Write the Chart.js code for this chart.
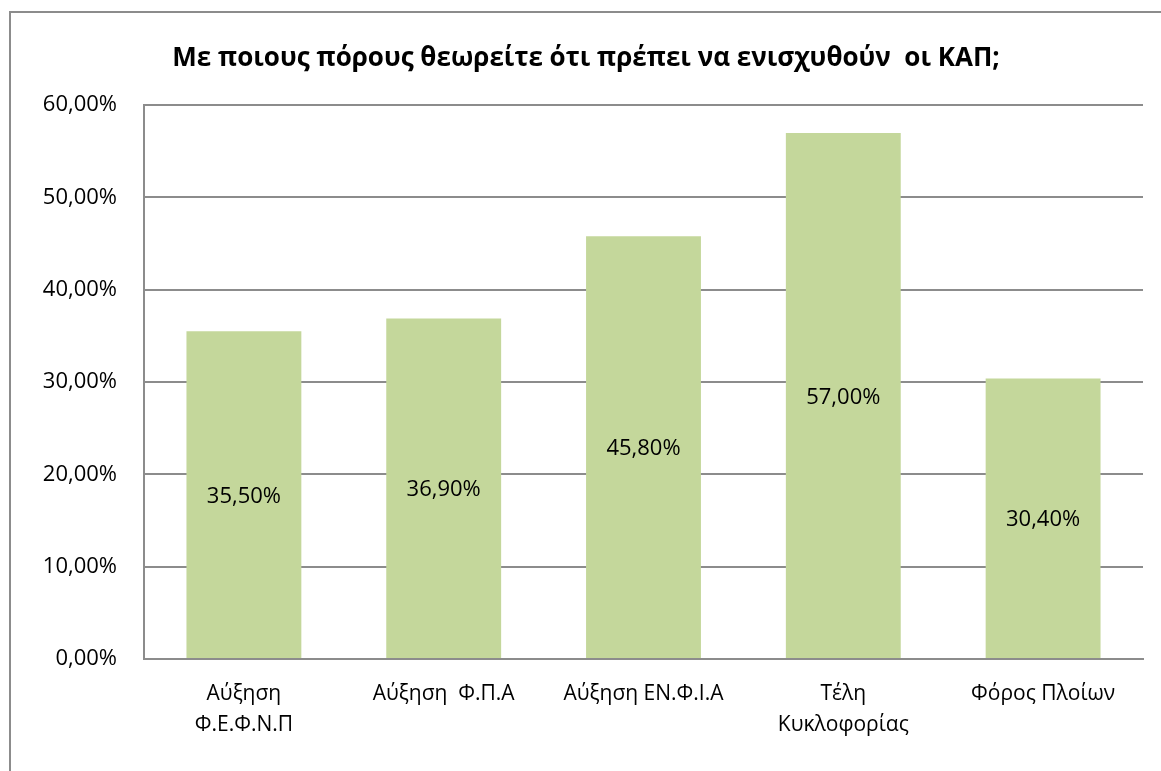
<!DOCTYPE html>
<html>
<head>
<meta charset="utf-8">
<script src="https://cdn.jsdelivr.net/npm/chart.js@4.4.0/dist/chart.umd.min.js"></script>
<style>
  body { margin: 0; background: #fff; }
  #wrap { position: relative; width: 1161px; height: 771px; overflow: hidden; }
  #frame { position: absolute; left: 9px; top: 11px; width: 1200px; height: 800px;
           border-left: 2px solid #8c8c8c; border-top: 2px solid #8c8c8c; }
  canvas { position: absolute; left: 0; top: 0; }
</style>
</head>
<body>
<div id="wrap">
  <div id="frame"></div>
  <canvas id="myChart" width="1161" height="771"></canvas>
</div>
<script>
const titulo = 'Με ποιους πόρους θεωρείτε ότι πρέπει να ενισχυθούν  οι ΚΑΠ;'
const categorias = [
    ['Αύξηση', 'Φ.Ε.Φ.Ν.Π'],
    'Αύξηση  Φ.Π.Α',
    'Αύξηση ΕΝ.Φ.Ι.Α',
    ['Τέλη', 'Κυκλοφορίας'],
    'Φόρος Πλοίων'
]
const valores = [35.5, 36.9, 45.8, 57.0, 30.4]
const ticksY = [0, 10, 20, 30, 40, 50, 60]

const fuente = "'Open Sans', 'DejaVu Sans', sans-serif"

function porcentaje(v){
    return v.toFixed(2).replace('.', ',') + '%'
}

// etiquetas dentro de cada barra
const etiquetas = {
    id: 'etiquetas',
    afterDatasetsDraw(chart){
        const ctx = chart.ctx
        const meta = chart.getDatasetMeta(0)
        ctx.save()
        ctx.font = `22px ${fuente}`
        ctx.fillStyle = '#000'
        ctx.textAlign = 'center'
        ctx.textBaseline = 'middle'
        meta.data.forEach((bar, i) => {
            const y = (bar.y + bar.base) / 2
            ctx.fillText(porcentaje(valores[i]), bar.x, y + 2)
        })
        ctx.restore()
    }
}

let config = {
    type: 'bar',
    data: {
        labels: categorias,
        datasets: [{
            data: valores,
            backgroundColor: '#c4d79b',
            borderWidth: 0,
            categoryPercentage: 1,
            barPercentage: 0.575
        }]
    },
    options: {
        responsive: false,
        animation: false,
        devicePixelRatio: 1,
        layout: { padding: { left: 29, right: 18, top: 0, bottom: 0 } },
        plugins: {
            legend: { display: false },
            tooltip: { enabled: false },
            title: {
                display: true,
                text: titulo,
                color: '#000',
                font: { family: fuente, size: 26, weight: 'bold' },
                padding: { top: 43, bottom: 31 }
            }
        },
        scales: {
            x: {
                grid: { display: false },
                border: { display: true, color: '#8c8c8c', width: 2 },
                ticks: {
                    color: '#000',
                    font: { family: fuente, size: 21, lineHeight: 1.5 },
                    padding: 11,
                    maxRotation: 0,
                    autoSkip: false
                },
                afterFit(scale){ scale.height = 112 }
            },
            y: {
                min: 0,
                max: 60,
                afterBuildTicks(scale){
                    scale.ticks = ticksY.map(v => ({ value: v }))
                },
                grid: { color: '#8c8c8c', lineWidth: 2, drawTicks: false },
                border: { display: true, color: '#8c8c8c', width: 2 },
                ticks: {
                    color: '#000',
                    font: { family: fuente, size: 22 },
                    padding: 27,
                    callback: v => porcentaje(v)
                },
                afterFit(scale){ scale.width = 115 }
            }
        }
    },
    plugins: [etiquetas]
}

let myChart = new Chart(document.getElementById('myChart'), config)
</script>
</body>
</html>
